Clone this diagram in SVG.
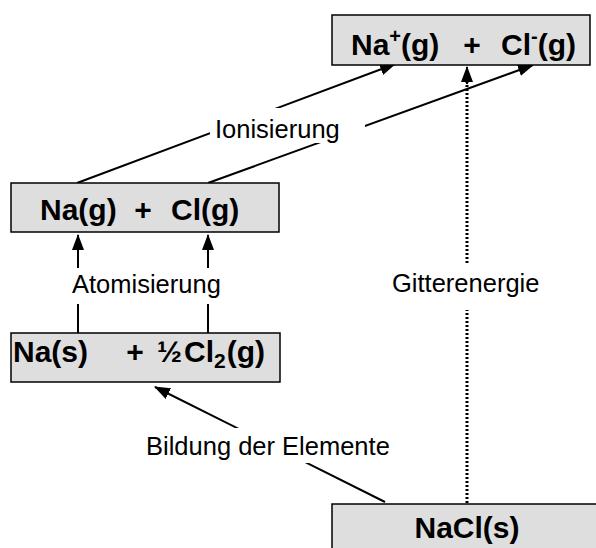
<svg xmlns="http://www.w3.org/2000/svg" width="596" height="548" viewBox="0 0 596 548">
<style>
.box{fill:#dedede;stroke:#000;stroke-width:1.5}
.bt{font-family:"Liberation Sans",Arial,sans-serif;font-weight:bold;font-size:30px;fill:#000}
.lt{font-family:"Liberation Sans",Arial,sans-serif;font-size:25.5px;fill:#000}
.ln{stroke:#000;stroke-width:2;fill:none}
.dt{stroke:#000;stroke-width:3;stroke-dasharray:2 2;fill:none}
.bg{fill:#fff}
</style>
<defs>
<marker id="ah" markerWidth="16" markerHeight="12" refX="15" refY="6" orient="auto" markerUnits="userSpaceOnUse">
<path d="M0,0 L16,6 L0,12 Z" fill="#000"/>
</marker>
</defs>
<rect width="596" height="548" fill="#fff"/>
<g id="connectors">
<line class="ln" x1="77" y1="183" x2="395" y2="64" marker-end="url(#ah)"/>
<line class="ln" x1="208" y1="183" x2="533" y2="65" marker-end="url(#ah)"/>
<line class="ln" x1="78" y1="333" x2="78" y2="235" marker-end="url(#ah)"/>
<line class="ln" x1="208" y1="333" x2="208" y2="235" marker-end="url(#ah)"/>
<line class="dt" x1="467" y1="503" x2="467" y2="82"/>
<line class="ln" x1="467" y1="84" x2="467" y2="67" marker-end="url(#ah)"/>
<line class="ln" x1="385" y1="502" x2="155" y2="387" marker-end="url(#ah)"/>
</g>
<g id="label-ionisierung">
<rect class="bg" x="210" y="108" width="155" height="35"/>
<text class="lt" x="215" y="138">Ionisierung</text>
</g>
<g id="label-atomisierung">
<rect class="bg" x="70" y="268" width="155" height="36"/>
<text class="lt" x="72" y="293">Atomisierung</text>
</g>
<g id="label-gitterenergie">
<rect class="bg" x="390" y="265" width="156" height="45"/>
<text class="lt" x="392" y="292">Gitterenergie</text>
</g>
<g id="label-bildung">
<rect class="bg" x="145" y="428" width="255" height="35"/>
<text class="lt" x="146" y="455">Bildung der Elemente</text>
</g>
<g id="node-ions">
<rect class="box" x="332" y="15" width="258" height="50"/>
<text class="bt" x="351" y="55">Na<tspan font-size="20" dy="-12">+</tspan><tspan dy="12">(g)</tspan></text>
<text class="bt" x="472" y="55" text-anchor="middle">+</text>
<text class="bt" x="501" y="55">Cl<tspan font-size="20" dy="-12">-</tspan><tspan dy="12">(g)</tspan></text>
</g>
<g id="node-atoms">
<rect class="box" x="11" y="183" width="268" height="49"/>
<text class="bt" x="40" y="220">Na(g)</text>
<text class="bt" x="143" y="220" text-anchor="middle">+</text>
<text class="bt" x="171" y="220">Cl(g)</text>
</g>
<g id="node-elements">
<rect class="box" x="11" y="333" width="269" height="49"/>
<text class="bt" x="13" y="362">Na(s)</text>
<text class="bt" x="135" y="362" text-anchor="middle">+</text>
<text class="bt" x="157" y="362">½<tspan dx="2">Cl</tspan><tspan font-size="21" dy="6">2</tspan><tspan dy="-6" dx="1">(g)</tspan></text>
</g>
<g id="node-nacl">
<rect class="box" x="332" y="504" width="270" height="50"/>
<text class="bt" x="467" y="538" text-anchor="middle" font-size="31">NaCl(s)</text>
</g>
</svg>
